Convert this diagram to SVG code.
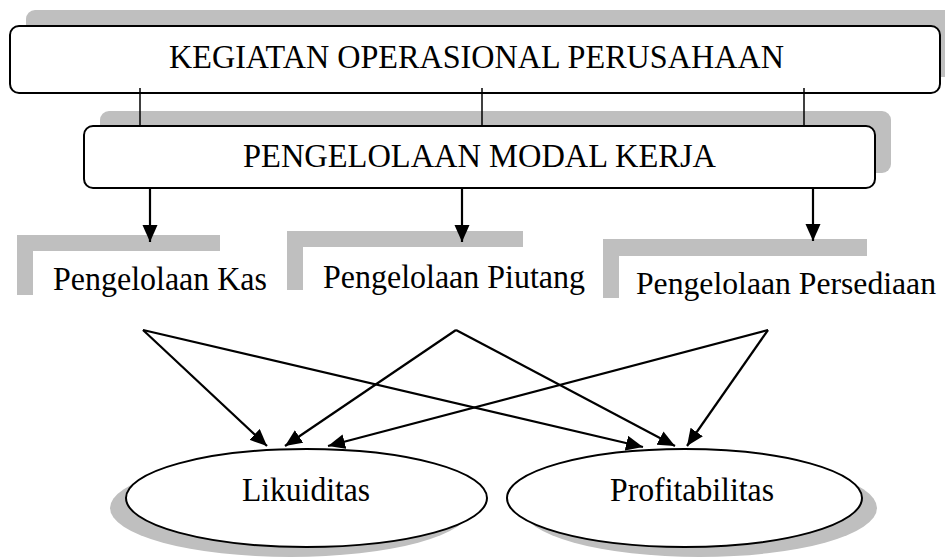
<svg xmlns="http://www.w3.org/2000/svg" width="945" height="558" viewBox="0 0 945 558">
<defs>
<style>
.shadow{fill:#bfbfbf;stroke:none}
.box{fill:#fff;stroke:#000;stroke-width:2}
.bar{fill:#bfbfbf;stroke:none}
.lbl{font-family:"Liberation Serif","Times New Roman",serif;font-size:34px;fill:#000}
.sm{font-size:32px}
.thin{stroke:#000;stroke-width:1.5;fill:none}
.arr{stroke:#000;stroke-width:2.2;fill:none;marker-end:url(#ah)}
</style>
<marker id="ah" markerUnits="userSpaceOnUse" markerWidth="18" markerHeight="16" refX="17" refY="7.5" orient="auto">
<path d="M0,0 L17,7.5 L0,15 z" fill="#000"/>
</marker>
</defs>
<rect width="945" height="558" fill="#fff"/>

<g id="kegiatan">
<rect class="shadow" x="26" y="10" width="930" height="67" rx="9"/>
<rect class="box" x="10" y="26" width="930" height="67" rx="9"/>
<text class="lbl" x="169" y="68" textLength="615" lengthAdjust="spacingAndGlyphs">KEGIATAN OPERASIONAL PERUSAHAAN</text>
</g>

<g id="modal-kerja">
<rect class="shadow" x="100" y="111" width="791" height="62" rx="9"/>
<rect class="box" x="84" y="126" width="791" height="62" rx="9"/>
<text class="lbl" x="243" y="167" textLength="473" lengthAdjust="spacingAndGlyphs">PENGELOLAAN MODAL KERJA</text>
</g>

<g id="kas">
<path class="bar" d="M17,235 H220 V251 H33 V295 H17 z"/>
<text class="lbl" x="53" y="290" textLength="214" lengthAdjust="spacingAndGlyphs">Pengelolaan Kas</text>
</g>

<g id="piutang">
<path class="bar" d="M287,231 H523 V247 H303 V290 H287 z"/>
<text class="lbl" x="323" y="288" textLength="262" lengthAdjust="spacingAndGlyphs">Pengelolaan Piutang</text>
</g>

<g id="persediaan">
<path class="bar" d="M603,239 H867 V256 H619 V298 H603 z"/>
<text class="lbl sm" x="636" y="294" textLength="300" lengthAdjust="spacingAndGlyphs">Pengelolaan Persediaan</text>
</g>

<g id="likuiditas">
<ellipse class="shadow" cx="290.5" cy="508" rx="180.5" ry="49"/>
<ellipse class="box" cx="306.5" cy="498" rx="180.5" ry="49"/>
<text class="lbl" x="242" y="501" textLength="128" lengthAdjust="spacingAndGlyphs">Likuiditas</text>
</g>

<g id="profitabilitas">
<ellipse class="shadow" cx="699.5" cy="508" rx="177.5" ry="49"/>
<ellipse class="box" cx="684.5" cy="498" rx="177.5" ry="49"/>
<text class="lbl" x="610" y="501" textLength="164" lengthAdjust="spacingAndGlyphs">Profitabilitas</text>
</g>

<g id="connectors">
<line class="thin" x1="140" y1="88" x2="140" y2="126"/>
<line class="thin" x1="482" y1="88" x2="482" y2="126"/>
<line class="thin" x1="804" y1="88" x2="804" y2="126"/>
<line class="arr" x1="150" y1="188" x2="150" y2="242"/>
<line class="arr" x1="462" y1="188" x2="462" y2="242"/>
<line class="arr" x1="813" y1="188" x2="813" y2="241"/>
<line class="arr" x1="143" y1="330" x2="267" y2="446"/>
<line class="arr" x1="143" y1="330" x2="643" y2="447"/>
<line class="arr" x1="456" y1="330" x2="285" y2="446"/>
<line class="arr" x1="456" y1="330" x2="675" y2="446"/>
<line class="arr" x1="768" y1="330" x2="328" y2="446"/>
<line class="arr" x1="768" y1="330" x2="687" y2="446"/>
</g>
</svg>
